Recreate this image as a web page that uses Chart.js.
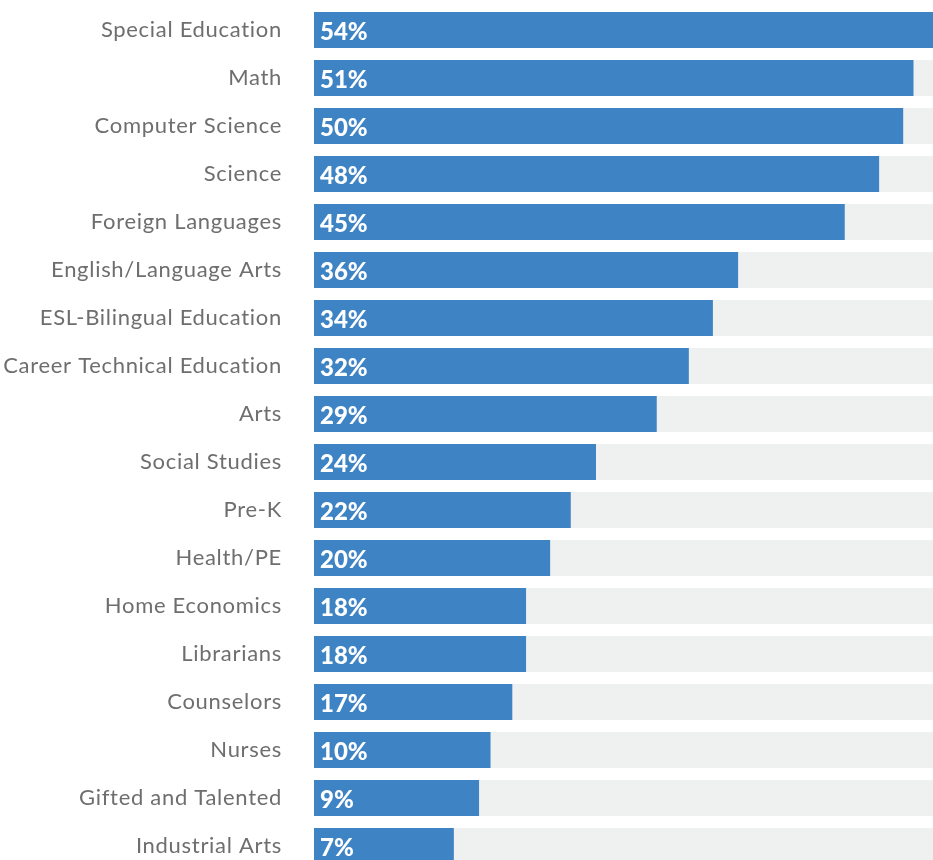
<!DOCTYPE html>
<html>
<head>
<meta charset="utf-8">
<script src="https://cdn.jsdelivr.net/npm/chart.js@4.4.1/dist/chart.umd.min.js"></script>
<style>
  html, body { margin: 0; padding: 0; background: #ffffff; overflow: hidden; }
  #wrap { position: relative; width: 933px; height: 870px; }
</style>
</head>
<body>
<div id="wrap"><canvas id="chartSubjects" width="933" height="870"></canvas></div>
<script>
const categories = [
    'Special Education', 'Math', 'Computer Science', 'Science', 'Foreign Languages',
    'English/Language Arts', 'ESL-Bilingual Education', 'Career Technical Education', 'Arts',
    'Social Studies', 'Pre-K', 'Health/PE', 'Home Economics', 'Librarians', 'Counselors',
    'Nurses', 'Gifted and Talented', 'Industrial Arts'
];

// percentages printed on the bars
const pctLabels = [54, 51, 50, 48, 45, 36, 34, 32, 29, 24, 22, 20, 18, 18, 17, 10, 9, 7];

// bar lengths as drawn in the picture (same units, full track = 54)
const barLengths = [54, 52.3, 51.4, 49.3, 46.3, 37.0, 34.8, 32.7, 29.9, 24.6, 22.4, 20.6, 18.5, 18.5, 17.3, 15.4, 14.4, 12.2];

const TRACK_MAX = 54;
const trackValues = categories.map(() => TRACK_MAX);

const BLUE = '#3e84c5';
const TRACK = '#eff0f0';

// wider letter spacing for the category labels
const spacingPlugin = {
    id: 'spacing',
    beforeDraw(chart) { chart.ctx.letterSpacing = '0.7px'; }
};

// white percent text inside the start of each blue bar
const barTextPlugin = {
    id: 'barText',
    afterDatasetsDraw(chart) {
        const meta = chart.getDatasetMeta(0);
        const ctx = chart.ctx;
        ctx.save();
        ctx.letterSpacing = '0px';
        ctx.fillStyle = '#ffffff';
        ctx.font = "900 24px 'Lato', sans-serif";
        ctx.textAlign = 'left';
        ctx.textBaseline = 'middle';
        meta.data.forEach((bar, i) => {
            ctx.fillText(pctLabels[i] + '%', bar.base + 6, bar.y + 2);
        });
        ctx.restore();
    }
};

const ctx = document.getElementById('chartSubjects').getContext('2d');
new Chart(ctx, {
    type: 'bar',
    data: {
        labels: categories,
        datasets: [
            { label: 'Share', data: barLengths, backgroundColor: BLUE, order: 0 },
            { label: 'Track', data: trackValues, backgroundColor: TRACK, order: 1 }
        ]
    },
    options: {
        indexAxis: 'y',
        responsive: false,
        animation: false,
        layout: { padding: { top: 6, right: 0, bottom: 0, left: 0 } },
        datasets: { bar: { grouped: false, categoryPercentage: 1, barPercentage: 0.75, borderWidth: 0 } },
        scales: {
            x: { display: false, min: 0, max: TRACK_MAX },
            y: {
                grid: { display: false },
                border: { display: false },
                afterFit: (scale) => {
                    scale.width = 314;
                    scale.paddingTop = 0;
                    scale.paddingBottom = 0;
                },
                ticks: {
                    padding: 24,
                    color: '#6e6e6e',
                    font: { family: "'Lato', sans-serif", size: 22 }
                }
            }
        },
        plugins: { legend: { display: false }, tooltip: { enabled: false } }
    },
    plugins: [spacingPlugin, barTextPlugin]
});
</script>
</body>
</html>
